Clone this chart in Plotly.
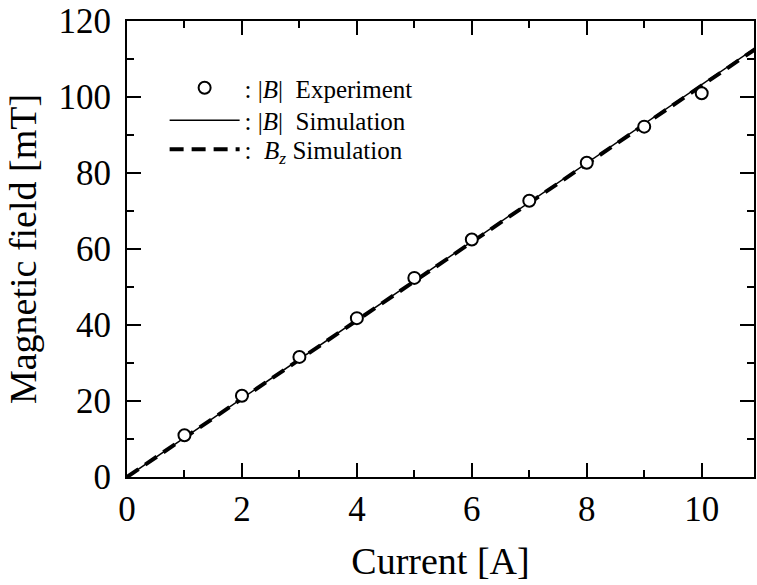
import plotly.graph_objects as go

# Measured field at the coil centre
current_exp = [1, 2, 3, 4, 5, 6, 7, 8, 9, 10]
b_abs_exp = [11.0, 21.4, 31.6, 41.8, 52.4, 62.5, 72.7, 82.7, 92.2, 101.0]

# Simulated field (|B| and the z-component)
current_sim = [0, 1, 2, 3, 4, 5, 6, 7, 8, 9, 10, 11]
b_abs_sim = [0, 10.33, 20.66, 30.99, 41.32, 51.65, 61.98, 72.31, 82.64, 92.97, 103.3, 113.6]
b_z_sim = [0, 10.3, 20.6, 30.9, 41.2, 51.5, 61.8, 72.1, 82.4, 92.7, 103.0, 113.3]

x_ticks = [0, 2, 4, 6, 8, 10]
y_ticks = [0, 20, 40, 60, 80, 100, 120]

FONT = "Liberation Serif"

fig = go.Figure()

fig.add_trace(go.Scatter(
    x=current_sim, y=b_abs_sim, mode="lines",
    line=dict(color="black", width=1.5),
    name=": |<i>B</i>|  Simulation", legend="legend2",
))
fig.add_trace(go.Scatter(
    x=current_sim, y=b_z_sim, mode="lines",
    line=dict(color="black", width=4, dash="14px,8px"),
    name=":  <i>B<sub>z</sub></i> Simulation", legend="legend3",
))
fig.add_trace(go.Scatter(
    x=current_exp, y=b_abs_exp, mode="markers",
    marker=dict(symbol="circle", size=12, color="white",
                line=dict(color="black", width=2)),
    name=": |<i>B</i>|  Experiment", legend="legend",
))

axis_common = dict(
    showline=True, linecolor="black", linewidth=2, mirror="ticks",
    ticks="inside", ticklen=14, tickwidth=2, tickcolor="black",
    showgrid=False, zeroline=False,
    tickfont=dict(family=FONT, size=35, color="black"),
    title_font=dict(family=FONT, size=38, color="black"),
)

fig.update_xaxes(
    range=[0, 10.91], tickvals=x_ticks, ticktext=[str(v) for v in x_ticks],
    minor=dict(dtick=1, ticks="inside", ticklen=7, tickwidth=2, tickcolor="black"),
    title_text="Current [A]", title_standoff=19,
    **axis_common,
)
fig.update_yaxes(
    range=[0, 120], tickvals=y_ticks,
    ticktext=[str(v) + "\u2009" for v in y_ticks],
    minor=dict(dtick=10, ticks="inside", ticklen=7, tickwidth=2, tickcolor="black"),
    title_text="Magnetic field [mT]", title_standoff=10,
    **axis_common,
)

legend_common = dict(
    x=0.06, xanchor="left", yanchor="middle",
    bgcolor="rgba(0,0,0,0)", borderwidth=0,
    font=dict(family=FONT, size=25, color="black"),
    itemwidth=70,
)

fig.update_layout(
    width=757, height=585,
    margin=dict(l=127, r=1, t=21, b=108),
    paper_bgcolor="white", plot_bgcolor="white",
    font=dict(family=FONT, color="black"),
    showlegend=True,
    legend=dict(y=0.853, **legend_common),
    legend2=dict(y=0.782, **legend_common),
    legend3=dict(y=0.718, **legend_common),
)

fig.write_html("out.html")
